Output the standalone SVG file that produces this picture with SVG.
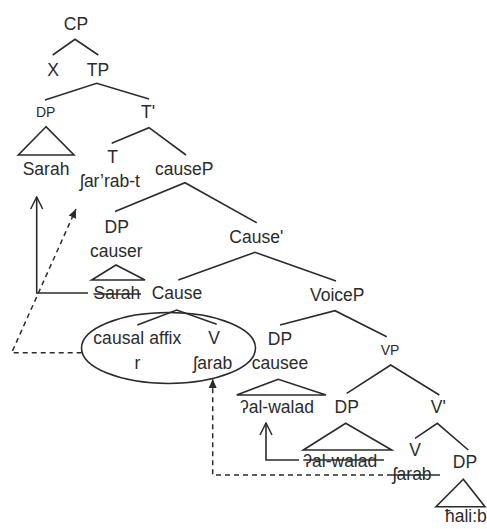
<svg xmlns="http://www.w3.org/2000/svg" width="487" height="529" viewBox="0 0 487 529">
<defs>
<style>
text{font-family:"Liberation Sans",Arial,sans-serif;font-size:17.5px;fill:#2b2b2b}
text.s{font-size:14px}
.m{text-anchor:middle}
.ln{stroke:#2b2b2b;stroke-width:1.6;fill:none}
.ds{stroke:#2b2b2b;stroke-width:1.5;fill:none;stroke-dasharray:5,4}
.st{stroke:#2b2b2b;stroke-width:1.3}
</style>
<marker id="open" markerUnits="userSpaceOnUse" markerWidth="14" markerHeight="14" viewBox="0 0 14 14" refX="13" refY="7" orient="auto">
<path d="M1,1 L13,7 L1,13" fill="none" stroke="#2b2b2b" stroke-width="1.5"/>
</marker>
<marker id="fill" markerUnits="userSpaceOnUse" markerWidth="10" markerHeight="10" viewBox="0 0 10 10" refX="9" refY="5" orient="auto">
<path d="M0,1 L9,5 L0,9 Z" fill="#2b2b2b"/>
</marker>
</defs>
<rect width="487" height="529" fill="#ffffff"/>

<g id="connectors">
<!-- tree branches -->
<path class="ln" d="M52.7,55 L75,39.3 L98.3,55"/>
<path class="ln" d="M45,100 L96.7,83.3 L149,99"/>
<path class="ln" d="M111.7,143.3 L149,127.7 L186,155"/>
<path class="ln" d="M115,211.5 L185,182.7 L256.7,222.7"/>
<path class="ln" d="M178.3,280 L255,252.3 L336,281"/>
<path class="ln" d="M137.3,325 L176.7,310 L216.7,324.3"/>
<path class="ln" d="M280,325 L335,310.7 L386.7,336.7"/>
<path class="ln" d="M346.7,393.3 L390.7,365 L439.3,395"/>
<path class="ln" d="M415,438.3 L437.3,423.3 L468.3,450"/>
<!-- movement arrows -->
<path class="ln" d="M88,293 H36.7 V197" marker-end="url(#open)"/>
<path class="ln" d="M299,460 H266 V423" marker-end="url(#open)"/>
<path class="ds" d="M81.7,352.7 H11.7 L76,209" marker-end="url(#fill)"/>
<path class="ds" d="M392,475 H212.7 V379" marker-end="url(#fill)"/>
</g>

<g id="CP"><text class="m" x="76" y="30">CP</text></g>
<g id="X"><text class="m" x="53" y="76">X</text></g>
<g id="TP"><text class="m" x="98" y="76">TP</text></g>
<g id="DP-subject">
<text class="s m" x="45.7" y="116.5">DP</text>
<path class="ln" d="M46,126.7 L18.3,155 H74 Z"/>
<text x="22.7" y="175">Sarah</text>
</g>
<g id="Tbar"><text class="m" x="148" y="118">T'</text></g>
<g id="T">
<text class="m" x="112.7" y="163">T</text>
<text x="80" y="186.5">ʃar’rab-t</text>
</g>
<g id="causeP"><text x="155" y="175">causeP</text></g>
<g id="DP-causer">
<text class="m" x="116.7" y="232.7">DP</text>
<text x="90" y="256.5">causer</text>
<path class="ln" d="M116,265 L91.7,280 H145 Z"/>
<text x="93.5" y="299.3">Sarah</text>
<line class="st" x1="93.5" y1="294" x2="141" y2="294"/>
</g>
<g id="Causebar"><text x="229.3" y="242.7">Cause'</text></g>
<g id="Cause">
<text x="151.7" y="299.3">Cause</text>
<ellipse class="ln" cx="168.5" cy="348" rx="87" ry="35.5"/>
<text x="93.3" y="344" textLength="88" lengthAdjust="spacing">causal affix</text>
<text class="m" x="214" y="344">V</text>
<text class="m" x="137.3" y="369.3">r</text>
<text x="193.3" y="369.3">ʃarab</text>
</g>
<g id="VoiceP"><text x="310" y="300.5">VoiceP</text></g>
<g id="DP-causee">
<text class="m" x="280" y="345">DP</text>
<text x="251.7" y="369.3">causee</text>
<path class="ln" d="M278.3,379.3 L236.7,395 H326 Z"/>
<text x="240" y="413.3">ʔal-walad</text>
</g>
<g id="VP"><text class="s m" x="390" y="355">VP</text></g>
<g id="DP-VP">
<text class="m" x="346.7" y="413.3">DP</text>
<path class="ln" d="M345.7,423.3 L303.3,450 H391.7 Z"/>
<text x="303.3" y="466.7">ʔal-walad</text>
<line class="st" x1="303.3" y1="460" x2="384" y2="460"/>
</g>
<g id="Vbar"><text class="m" x="438.3" y="413.3">V'</text></g>
<g id="V">
<text class="m" x="415" y="456">V</text>
<text x="392.7" y="480">ʃarab</text>
<line class="st" x1="392" y1="475" x2="440" y2="475"/>
</g>
<g id="DP-object">
<text class="m" x="465" y="468.3">DP</text>
<path class="ln" d="M463.3,479.3 L436,506.7 H485 Z"/>
<text x="445" y="521.7">ħali:b</text>
</g>
</svg>
